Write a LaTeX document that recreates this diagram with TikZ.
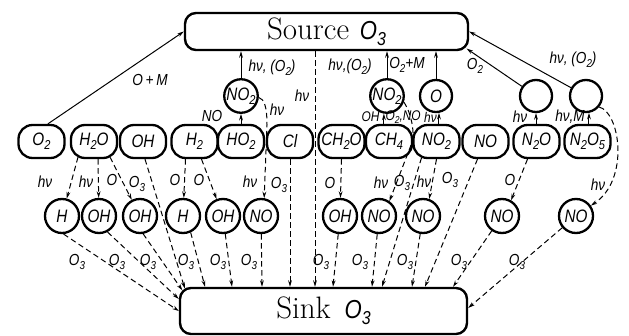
\documentclass[tikz,border=0pt]{standalone}
\usepackage{fontspec}
\usepackage{graphicx}
\usetikzlibrary{arrows.meta}
\newfontfamily\labf{Liberation Sans}[FakeStretch=0.85]
\newcommand\sbs[1]{\raisebox{-0.45ex}{\scalebox{0.72}{#1}}}
\tikzset{
 nodefont/.style={font=\labf\itshape\fontsize{18}{18}\selectfont},
 mol/.style={draw, line width=2.3pt, rectangle, rounded corners=14pt, minimum width=46pt, minimum height=33pt, inner sep=0pt, nodefont},
 circ/.style={draw, circle, line width=2.3pt, inner sep=0pt, nodefont},
 topc/.style={circ, minimum size=32pt},
 botc/.style={circ, minimum size=34pt},
 bigbox/.style={draw, line width=2.4pt, rounded corners=11pt, inner sep=0pt, font=\fontsize{31}{31}\selectfont},
 lab/.style={font=\labf\itshape\fontsize{16}{16}\selectfont, inner sep=0pt},
 slab/.style={font=\labf\itshape\fontsize{14}{14}\selectfont, inner sep=0pt},
 arr/.style={line width=1pt, -{Stealth[length=6.5pt,width=3.8pt]}},
 darr/.style={arr, dash pattern=on 5.5pt off 3.5pt},
}
\newcommand\bigO{{\labf\itshape\fontsize{26}{26}\selectfont O\sbs{3}}}
\begin{document}
\begin{tikzpicture}[x=1pt,y=-1pt]
\useasboundingbox (0,0) rectangle (629,336);
% boxes
\node[bigbox, minimum width=283pt, minimum height=37pt] (src) at (326.5,31.5) {Source\hspace{0.35em}\bigO\hspace{30pt}};
\node[bigbox, minimum width=287pt, minimum height=46pt] (snk) at (323.5,311) {Sink\hspace{0.45em}\bigO\hspace{38pt}};
% middle row
\node[mol] (O2m) at (41.5,141.5) {O\sbs{2}};
\node[mol] (H2Om) at (94,141.5) {H\sbs{2}O};
\node[mol] (OHm) at (143,141.5) {OH};
\node[mol] (H2m) at (194.5,141.5) {H\sbs{2}};
\node[mol] (HO2m) at (241,141.5) {HO\sbs{2}};
\node[mol] (Clm) at (290,141.5) {Cl};
\node[mol] (CH2Om) at (341.5,141.5) {CH\sbs{2}O};
\node[mol] (CH4m) at (389,141.5) {CH\sbs{4}};
\node[mol] (NO2m) at (436.5,141.5) {NO\sbs{2}};
\node[mol] (NOm) at (485.5,141.5) {NO};
\node[mol] (N2Om) at (536.5,141.5) {N\sbs{2}O};
\node[mol] (N2O5m) at (587.5,141.5) {N\sbs{2}O\sbs{5}};
% top circles
\node[topc] (NO2a) at (241,96) {NO\sbs{2}};
\node[topc] (NO2b) at (387,96) {NO\sbs{2}};
\node[topc] (Oa) at (436,96) {O};
\node[topc] (Xa) at (536,96) {};
\node[topc] (Xb) at (586,96) {};
% bottom circles
\node[botc] (Hb1) at (62,216) {H};
\node[botc] (OHb1) at (99,216) {OH};
\node[botc] (OHb2) at (140,216) {OH};
\node[botc] (Hb2) at (183,216) {H};
\node[botc] (OHb3) at (223,216) {OH};
\node[botc] (NOb1) at (261,216) {NO};
\node[botc] (OHb4) at (340,216) {OH};
\node[botc] (NOb2) at (379,216) {NO};
\node[botc] (NOb3) at (423,216) {NO};
\node[botc] (NOb4) at (502,216) {NO};
\node[botc] (NOb5) at (576,216) {NO};
\coordinate (hvx) at (315,0);
% top connectors
\draw[arr] (O2m.70) -- (src.west) node[lab] (lOM) at (150,80) {O\,+\,M};
\draw[arr] (HO2m.north) -- (NO2a.south) node[lab] (lNO) at (212,116) {NO};
\draw[arr] (NO2a.north) -- (NO2a.north |- src.south) node[lab] (lh1) at (272,68) {hν, (O\sbs{2})};
\draw[darr] (NO2a.-5) .. controls (264,99) and (267,106) .. (267,125) -- (NOb1.80)
  node[lab] (lh2) at (277,110) {hν} node[lab] (lh3) at (250,182) {hν};
\draw[darr] (src.south -| hvx) -- (snk.north -| hvx) node[lab] (lh4) at (302,96) {hν};
\draw[arr] (NO2b.north) -- (NO2b.north |- src.south) node[lab] (lh5) at (350,67) {hν,(O\sbs{2})};
\draw[arr] (CH4m.north -| NO2b.-100) -- (NO2b.-100) node[slab, anchor=east] (lOH) at (380,117) {OH}
  node[slab, anchor=west] (lO2NO) at (385,117) {O\sbs{2},NO};
\draw[darr] (NO2b.-20) .. controls (408,108) and (414,122) .. (413,140) -- (NOb2.55)
  node[lab] (lh6) at (381,183) {hν};
\draw[arr] (Oa.north) -- (Oa.north |- src.south) node[lab] (lO2M) at (407,65) {O\sbs{2}+M};
\draw[arr] (NO2m.north -| Oa.-80) -- (Oa.-80) node[slab] (lh7) at (430.5,117) {hν};
\draw[arr] (N2Om.north -| Xa.south) -- (Xa.south) node[lab] (lh8) at (520,117) {hν};
\draw[arr] (N2O5m.north -| Xb.-80) -- (Xb.-80) node[lab] (lhM) at (570,117) {hν,M};
\draw[arr] (Xa) -- ([xshift=-2.6pt,yshift=2.6pt]src.south east) node[lab] (lO2) at (475,66) {O\sbs{2}};
\draw[arr] (Xb) -- (src.east) node[lab] (lh9) at (573,60) {hν, (O\sbs{2})};
\draw[darr] (Xb.-40) .. controls (620,112) and (630,180) .. (NOb5.35) node[lab] (lh10) at (598,185) {hν};
% middle to bottom
\draw[darr] ([xshift=-16pt,yshift=2pt]H2Om.south) -- (Hb1) node[lab] (m1) at (45,182) {hν};
\draw[darr] ([xshift=4pt]H2Om.south) -- (OHb1) node[lab] (m2) at (86,182) {hν};
\draw[darr] ([xshift=16pt,yshift=2pt]H2Om.south) -- (OHb2) node[lab] (m3) at (112,180) {O};
\draw[darr] ([xshift=2pt]OHm.south) -- ([xshift=6pt,yshift=-1.6pt]snk.north west) node[lab] (m4) at (137,184) {O\sbs{3}};
\draw[darr] ([xshift=-9pt]H2m.south) -- (Hb2) node[lab] (m5) at (175,180) {O};
\draw[darr] ([xshift=7pt]H2m.south) -- (OHb3) node[lab] (m6) at (199,180) {O};
\draw[darr] (Clm.south) -- (Clm.south |- snk.north) node[lab] (m7) at (279,185) {O\sbs{3}};
\draw[darr] (CH2Om.south) -- (OHb4) node[lab] (m8) at (330,183) {O};
\draw[darr] ([xshift=-15pt,yshift=1.3pt]NO2m.south) -- ([xshift=58.5pt]snk.north) node[lab] (m9) at (402,183) {O\sbs{3}};
\draw[darr] (NO2m.south) -- (NOb3.70) node[lab] (m10) at (424,182) {hν};
\draw[darr] ([xshift=-8pt]NOm.south) -- ([xshift=101.5pt]snk.north) node[lab] (m11) at (450,180) {O\sbs{3}};
\draw[darr] ([xshift=-9pt]N2Om.south) -- (NOb4.60) node[lab] (m12) at (510,180) {O};
% bottom to sink
\draw[darr] (Hb1.-85) -- (snk.west) node[lab] (b1) at (77,262) {O\sbs{3}};
\draw[darr] (OHb1.-62) -- ([yshift=12pt]snk.west) node[lab] (b2) at (117,262) {O\sbs{3}};
\draw[darr] (OHb2.-80) -- ([xshift=3.5pt,yshift=-3.5pt]snk.north west) node[lab] (b3) at (148,262) {O\sbs{3}};
\draw[darr] (Hb2.-65) -- ([xshift=-118.5pt]snk.north) node[lab] (b4) at (186,262) {O\sbs{3}};
\draw[darr] (OHb3) -- ([xshift=-91.5pt]snk.north) node[lab] (b5) at (218,262) {O\sbs{3}};
\draw[darr] (NOb1) -- ([xshift=-61.5pt]snk.north) node[lab] (b6) at (249,262) {O\sbs{3}};
\draw[darr] (OHb4) -- ([xshift=9.5pt]snk.north) node[lab] (b7) at (321,262) {O\sbs{3}};
\draw[darr] (NOb2) -- ([xshift=48.5pt]snk.north) node[lab] (b8) at (360,262) {O\sbs{3}};
\draw[darr] (NOb3) -- ([xshift=88.5pt]snk.north) node[lab] (b9) at (405,262) {O\sbs{3}};
\draw[darr] (NOb4) -- ([xshift=129.5pt]snk.north) node[lab] (b10) at (459,262) {O\sbs{3}};
\draw[darr] (NOb5) -- ([yshift=3pt]snk.east) node[lab] (b11) at (517,262) {O\sbs{3}};
\end{tikzpicture}
\end{document}
